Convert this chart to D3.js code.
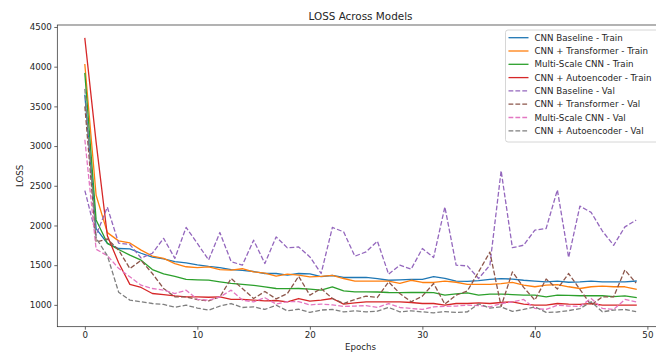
<!DOCTYPE html>
<html><head><meta charset="utf-8">
<script src="https://cdn.jsdelivr.net/npm/d3@7"></script>
<style>
html,body{margin:0;padding:0;background:#fff;}
svg{display:block;overflow:hidden;}
text{font-family:"DejaVu Sans",sans-serif;fill:#262626;}
</style></head>
<body>
<svg id="chart" width="656" height="354"></svg>
<script>
const epochs = d3.range(50);
const seriesNames = ["CNN Baseline - Train","CNN + Transformer - Train","Multi-Scale CNN - Train","CNN + Autoencoder - Train",
  "CNN Baseline - Val","CNN + Transformer - Val","Multi-Scale CNN - Val","CNN + Autoencoder - Val"];
const colors = ["#1f77b4","#ff7f0e","#2ca02c","#d62728","#9467bd","#8c564b","#e377c2","#7f7f7f"];
const dashed = [false,false,false,false,true,true,true,true];

const cnnTrain = [3640,1960,1775,1710,1705,1650,1600,1580,1545,1530,1505,1485,1470,1445,1435,1420,1395,1395,1375,1395,1390,1355,1370,1345,1345,1345,1330,1310,1315,1320,1320,1355,1335,1300,1295,1305,1320,1330,1325,1310,1300,1290,1300,1285,1290,1300,1290,1290,1290,1300];
const transTrain = [4025,2380,1910,1806,1780,1690,1615,1585,1520,1480,1470,1478,1445,1437,1455,1415,1400,1362,1386,1375,1352,1360,1372,1332,1300,1298,1298,1298,1270,1310,1282,1282,1298,1285,1258,1258,1258,1268,1282,1248,1228,1248,1256,1228,1206,1228,1235,1228,1228,1198];
const msTrain = [3914,2070,1775,1697,1626,1563,1445,1390,1360,1320,1315,1311,1290,1270,1257,1245,1227,1206,1205,1206,1198,1185,1227,1176,1164,1164,1162,1156,1155,1156,1156,1155,1122,1138,1150,1122,1135,1135,1130,1122,1122,1101,1122,1120,1115,1115,1115,1105,1112,1093];
const aeTrain = [4354,3050,1870,1530,1258,1219,1143,1130,1113,1101,1101,1096,1100,1068,1068,1059,1051,1055,1038,1080,1046,1059,1080,1009,1025,1038,1038,1038,1038,1030,1017,1017,996,1017,1017,1025,1017,1030,1038,1009,996,996,1017,1009,1005,1017,996,996,996,996];
const cnnVal = [2440,1880,2230,1777,1760,1590,1650,1838,1586,1976,1774,1565,1911,1545,1500,1815,1521,1856,1718,1730,1604,1395,1975,1920,1613,1668,1802,1386,1500,1450,1710,1597,2234,1500,1491,1332,1500,2690,1720,1752,1941,1962,2448,1597,2243,2165,1930,1750,1982,2067];
const transVal = [3500,1790,1830,1690,1458,1560,1395,1206,1101,1101,1065,1050,1100,1332,1206,1080,1168,1075,1143,1360,1122,1206,1080,1017,1068,1110,1093,1290,1143,1038,1110,1269,1009,1122,1176,1416,1664,980,1416,1220,1060,1326,1200,1395,1195,998,1101,1101,1440,1273];
const msVal = [3080,1700,1620,1460,1353,1248,1206,1185,1143,1185,1070,1059,1100,1185,1060,1038,1090,1010,1040,1040,1000,1010,1000,980,985,990,967,1017,967,955,942,975,980,985,996,990,975,1017,1038,1068,955,942,996,985,980,1080,955,942,1068,1038];
const aeVal = [3720,1840,1620,1160,1060,1038,1017,1005,970,996,960,933,984,1017,967,975,942,996,925,945,905,935,942,912,925,912,920,967,912,925,912,900,915,905,912,1012,960,975,918,942,975,905,910,928,952,1040,912,935,942,915];

const allSeries = [cnnTrain,transTrain,msTrain,aeTrain,cnnVal,transVal,msVal,aeVal];
const yTicks = [1000,1500,2000,2500,3000,3500,4000,4500];
const xTicks = [0,10,20,30,40,50];

const svg = d3.select("#chart");
const L = 57.3, R = 663.7, T = 25, B = 326.7;
const x = d3.scaleLinear().domain([-2.45, 51.45]).range([L, R]);
const y = d3.scaleLinear().domain([725, 4525]).range([B, T]);

const defs = svg.append("defs");
defs.append("clipPath").attr("id","clip").append("rect")
  .attr("x",L).attr("y",T).attr("width",R-L).attr("height",B-T);

const fs = 8.7;
// axes
const xAxis = svg.append("g").attr("transform",`translate(0,${B})`)
  .call(d3.axisBottom(x).tickValues(xTicks).tickFormat(d3.format("d")).tickSize(3).tickPadding(2.5));
const yAxis = svg.append("g").attr("transform",`translate(${L},0)`)
  .call(d3.axisLeft(y).tickValues(yTicks).tickFormat(d3.format("d")).tickSize(3).tickPadding(2.5));
[xAxis,yAxis].forEach(g=>{
  g.select(".domain").remove();
  g.selectAll(".tick line").attr("stroke","#262626").attr("stroke-width",0.7);
  g.selectAll(".tick text").attr("font-size",fs).attr("font-family","DejaVu Sans").attr("fill","#262626");
});

// lines
const line = d3.line().x((d,i)=>x(epochs[i])).y(d=>y(d));
const plot = svg.append("g").attr("clip-path","url(#clip)");
allSeries.forEach((s,k)=>{
  plot.append("path").datum(s).attr("d",line)
    .attr("fill","none").attr("stroke",colors[k]).attr("stroke-width",1.3)
    .attr("stroke-linejoin","round").attr("stroke-linecap", dashed[k] ? "butt" : "square")
    .attr("stroke-dasharray", dashed[k] ? "4.8,2.1" : null);
});

// spines
svg.append("rect").attr("x",L).attr("y",T).attr("width",R-L).attr("height",B-T)
  .attr("fill","none").attr("stroke","#262626").attr("stroke-width",0.7);

// labels
svg.append("text").attr("x",(L+R)/2).attr("y",20).attr("text-anchor","middle")
  .attr("font-size",10.4).text("LOSS Across Models");
svg.append("text").attr("x",(L+R)/2).attr("y",350).attr("text-anchor","middle")
  .attr("font-size",fs).text("Epochs");
svg.append("text").attr("transform",`translate(23,${(T+B)/2}) rotate(-90)`).attr("text-anchor","middle")
  .attr("font-size",fs).text("LOSS");

// legend
const lg = svg.append("g");
lg.append("rect").attr("x",505.5).attr("y",30).attr("width",170).attr("height",112)
  .attr("rx",2.5).attr("fill","#fff").attr("fill-opacity",0.8).attr("stroke","#cccccc").attr("stroke-width",0.8);
seriesNames.forEach((n,k)=>{
  const yy = 37.7 + k*13.3;
  lg.append("line").attr("x1",508.5).attr("x2",528.5).attr("y1",yy).attr("y2",yy)
    .attr("stroke",colors[k]).attr("stroke-width",1.3)
    .attr("stroke-dasharray", dashed[k] ? "4.8,2.1" : null);
  lg.append("text").attr("x",534.5).attr("y",yy+3.1).attr("font-size",fs).text(n);
});
</script>
</body></html>
